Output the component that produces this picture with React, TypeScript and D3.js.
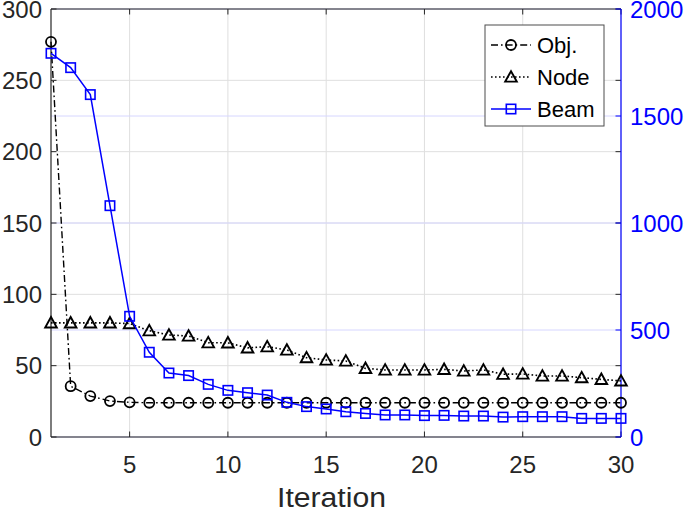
import React from "react";
import * as d3 from "d3";

const iterations = Array.from({ length: 30 }, (_, i) => i + 1);
const objValues = [277, 35.6, 28.7, 25.2, 24.3, 24, 24, 24, 24, 24, 24, 24, 24, 24, 24, 24, 24, 24, 24, 24, 24, 24, 24, 24, 24, 24, 24, 24, 24, 24];
const nodeValues = [80, 80, 80, 80, 79.5, 74.5, 71.5, 70.8, 66.1, 66, 62.5, 63.3, 61, 55.6, 54, 53.3, 48.1, 47, 47, 47, 47.4, 46.3, 47, 44, 44.2, 42.8, 42.8, 41.6, 40.4, 39.3];
const beamValues = [1793, 1726, 1600, 1081, 564, 396, 299, 287, 246, 218, 207, 196, 162, 142, 131, 118, 110, 103, 103, 100, 101, 98, 98, 93, 95, 95, 95, 87, 87, 87];
const xTicks = [5, 10, 15, 20, 25, 30];
const leftTicks = [0, 50, 100, 150, 200, 250, 300];
const rightTicks = [0, 500, 1000, 1500, 2000];
const legendLabels = ["Obj.", "Node", "Beam"];

const W = 685, H = 511;
const L = 51, R = 621, T = 9, B = 437;
const FONT = "'Liberation Sans', Arial, Helvetica, sans-serif";
const AX = "#262626";
const BLUE = "#0000ff";

function Marker({ type, x, y, color }: { type: string; x: number; y: number; color: string }) {
  if (type === "circle") return <circle cx={x} cy={y} r={5} fill="none" stroke={color} strokeWidth={1.8} />;
  if (type === "triangle") {
    const s = 5.8;
    return <path d={`M${x},${y - s}L${x + s},${y + s * 0.8}L${x - s},${y + s * 0.8}Z`} fill="none" stroke={color} strokeWidth={1.9} strokeLinejoin="miter" />;
  }
  return <rect x={x - 4.7} y={y - 4.7} width={9.4} height={9.4} fill="none" stroke={color} strokeWidth={1.6} />;
}

export default function App() {
  const x = d3.scaleLinear().domain([1, 30]).range([L, R]);
  const yL = d3.scaleLinear().domain([0, 300]).range([B, T]);
  const yR = d3.scaleLinear().domain([0, 2000]).range([B, T]);

  const lineL = d3.line<number>().x((_, i) => x(iterations[i])).y((d) => yL(d));
  const lineR = d3.line<number>().x((_, i) => x(iterations[i])).y((d) => yR(d));

  const series = [
    { vals: objValues, line: lineL, y: yL, color: "#000", dash: "7,3,1.6,3", width: 1.4, marker: "circle" },
    { vals: nodeValues, line: lineL, y: yL, color: "#000", dash: "1.6,2.4", width: 1.6, marker: "triangle" },
    { vals: beamValues, line: lineR, y: yR, color: BLUE, dash: "none", width: 1.5, marker: "square" },
  ];

  const legendRows = [45, 77, 109];

  return (
    <svg width={W} height={H} style={{ position: "absolute", left: 0, top: 0, background: "#fff" }} fontFamily={FONT}>
      <rect x={0} y={0} width={W} height={H} fill="#fff" />
      {xTicks.map((t) => (
        <line key={"gx" + t} x1={x(t)} x2={x(t)} y1={T} y2={B} stroke="#dfdfdf" strokeWidth={1} />
      ))}
      {leftTicks.map((t) => (
        <line key={"gl" + t} x1={L} x2={R} y1={yL(t)} y2={yL(t)} stroke="#dfdfdf" strokeWidth={1} />
      ))}
      {rightTicks.map((t) => (
        <line key={"gr" + t} x1={L} x2={R} y1={yR(t)} y2={yR(t)} stroke="#d6d6ff" strokeWidth={1} />
      ))}
      <line x1={L} x2={R} y1={T} y2={T} stroke={AX} strokeWidth={1} />
      <line x1={L} x2={R} y1={B} y2={B} stroke={AX} strokeWidth={1.2} />
      <line x1={L} x2={L} y1={T} y2={B} stroke={AX} strokeWidth={1.2} />
      {xTicks.map((t) => (
        <g key={"tx" + t}>
          <line x1={x(t)} x2={x(t)} y1={B} y2={B - 5.5} stroke={AX} />
          <line x1={x(t)} x2={x(t)} y1={T} y2={T + 5.5} stroke={AX} />
          <text x={x(t)} y={473} fontSize={24} textAnchor="middle" fill={AX}>{t}</text>
        </g>
      ))}
      {leftTicks.map((t) => (
        <g key={"tl" + t}>
          <line x1={L} x2={L + 5.5} y1={yL(t)} y2={yL(t)} stroke={AX} />
          <line x1={R} x2={R - 5.5} y1={yL(t)} y2={yL(t)} stroke={AX} />
          <text x={42} y={yL(t)} dy="0.36em" fontSize={24} textAnchor="end" fill={AX}>{t}</text>
        </g>
      ))}
      {rightTicks.map((t) => (
        <g key={"tr" + t}>
          <line x1={R} x2={R - 5.5} y1={yR(t)} y2={yR(t)} stroke={BLUE} />
          <text x={630} y={yR(t)} dy="0.36em" fontSize={24} textAnchor="start" fill={BLUE}>{t}</text>
        </g>
      ))}
      <line x1={R} x2={R} y1={T} y2={B} stroke={BLUE} strokeWidth={1.2} />
      <text x={277} y={507} fontSize={27.5} textLength={109} lengthAdjust="spacingAndGlyphs" fill={AX}>Iteration</text>
      {series.map((s, si) => (
        <g key={"s" + si}>
          <path d={s.line(s.vals) || ""} fill="none" stroke={s.color} strokeWidth={s.width} strokeDasharray={s.dash} />
          {s.vals.map((v, i) => (
            <Marker key={i} type={s.marker} x={x(iterations[i])} y={s.y(v)} color={s.color} />
          ))}
        </g>
      ))}
      <rect x={485} y={25} width={119} height={101} fill="#fff" stroke="#4d4d4d" strokeWidth={1} />
      {series.map((s, i) => (
        <g key={"lg" + i}>
          <line x1={491} x2={531} y1={legendRows[i]} y2={legendRows[i]} stroke={s.color} strokeWidth={s.width} strokeDasharray={s.dash} />
          <Marker type={s.marker} x={511} y={legendRows[i]} color={s.color} />
          <text x={537} y={legendRows[i]} dy="0.36em" fontSize={22} fill="#000">{legendLabels[i]}</text>
        </g>
      ))}
    </svg>
  );
}
